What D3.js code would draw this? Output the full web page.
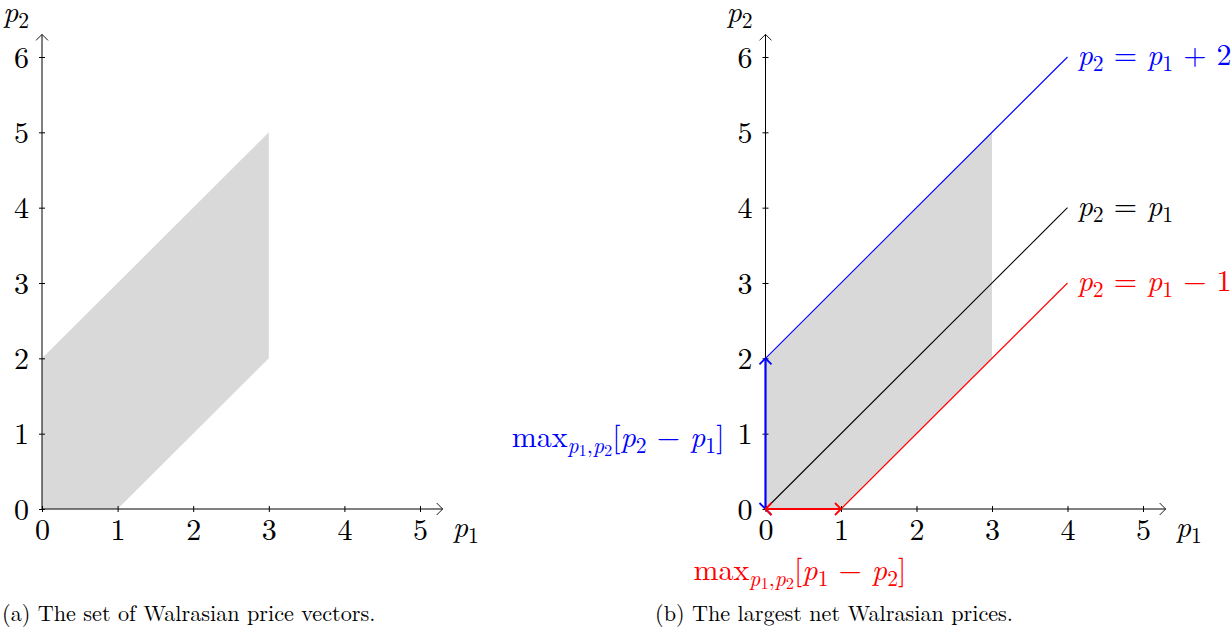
<!DOCTYPE html>
<html>
<head>
<meta charset="utf-8">
<script src="https://cdn.jsdelivr.net/npm/d3@7"></script>
<style>
  body { margin: 0; background: #fff; }
  text { font-family: "Latin Modern Roman", "CMU Serif", "Liberation Serif", serif; }
</style>
</head>
<body>
<svg width="1232" height="635"></svg>
<script>
const xTicks = [0, 1, 2, 3, 4, 5];
const yTicks = [0, 1, 2, 3, 4, 5, 6];
// shaded set of Walrasian price vectors (p1, p2)
const region = [[0, 0], [1, 0], [3, 2], [3, 5], [0, 2]];
// lines in panel (b): name, colour, endpoints
const lineNames = ["p2 = p1 + 2", "p2 = p1", "p2 = p1 - 1"];
const lineColors = ["#0000ff", "#000000", "#ff0000"];
const lineStarts = [[0, 2], [0, 0], [1, 0]];
const lineEnds = [[4, 6], [4, 4], [4, 3]];
const captions = ["(a) The set of Walrasian price vectors.", "(b) The largest net Walrasian prices."];

const svg = d3.select("svg");
const y = d3.scaleLinear().domain([0, 6]).range([509, 57]);
const xA = d3.scaleLinear().domain([0, 5]).range([42, 420]);
const xB = d3.scaleLinear().domain([0, 5]).range([765.5, 1143]);

const fs = 30;

function chevron(g, x, yy, dir, color, w) {
    // open arrow head with tip at (x, yy)
    const s = 6;
    let d;
    if (dir === "right") d = `M${x - s},${yy - s}L${x},${yy}L${x - s},${yy + s}`;
    if (dir === "left") d = `M${x + s},${yy - s}L${x},${yy}L${x + s},${yy + s}`;
    if (dir === "up") d = `M${x - s},${yy + s}L${x},${yy}L${x + s},${yy + s}`;
    if (dir === "down") d = `M${x - s},${yy - s}L${x},${yy}L${x + s},${yy + s}`;
    g.append("path").attr("d", d).attr("fill", "none")
        .attr("stroke", color).attr("stroke-width", w);
}

// math label helper: parts = [text, style] where style: r roman, i italic, s subscript italic, ss sub-sub
function mathText(g, x, yy, parts, size, color, anchor) {
    const t = g.append("text").attr("x", x).attr("y", yy)
        .attr("font-size", size).attr("fill", color)
        .attr("text-anchor", anchor || "start");
    let level = 0;
    parts.forEach(p => {
        const [str, st] = p;
        const target = st === "s" || st === "sr" ? 1 : st === "ss" ? 2 : 0;
        const sp = t.append("tspan").text(str);
        const shifts = [0, size * 0.2, size * 0.3];
        sp.attr("dy", shifts[target] - shifts[level]);
        level = target;
        sp.attr("font-size", target === 0 ? size : target === 1 ? size * 0.72 : size * 0.55);
        if (st !== "r" && st !== "ss" && st !== "sr") sp.attr("font-style", "italic");
    });
    return t;
}

function panel(x, withLines) {
    const g = svg.append("g");

    g.append("path")
        .datum(region)
        .attr("d", d3.line().x(d => x(d[0])).y(d => y(d[1])))
        .attr("fill", "#d9d9d9");

    // axes
    const xAxis = d3.axisBottom(x).tickValues(xTicks).tickSize(3).tickFormat(d3.format("d"));
    const gx = g.append("g").attr("transform", `translate(0,${y(0)})`).call(xAxis);
    gx.select(".domain").remove();
    gx.selectAll(".tick line").attr("y1", -3).attr("y2", 3).attr("stroke", "#000");
    gx.selectAll(".tick text").attr("y", 0).attr("dy", 31)
        .attr("font-size", fs).attr("font-family", null).attr("fill", "#000");

    const yAxis = d3.axisLeft(y).tickValues(yTicks).tickSize(3).tickFormat(d3.format("d"));
    const gy = g.append("g").attr("transform", `translate(${x(0)},0)`).call(yAxis);
    gy.select(".domain").remove();
    gy.selectAll(".tick line").attr("x1", -3).attr("x2", 3).attr("stroke", "#000");
    gy.selectAll(".tick text").attr("x", -13).attr("dy", 10)
        .attr("font-size", fs).attr("font-family", null).attr("fill", "#000");

    g.append("line").attr("x1", x(0)).attr("x2", x(5.3)).attr("y1", y(0)).attr("y2", y(0))
        .attr("stroke", "#000").attr("stroke-width", 1);
    chevron(g, x(5.3), y(0), "right", "#000", 0.9);
    g.append("line").attr("x1", x(0)).attr("x2", x(0)).attr("y1", y(0)).attr("y2", y(6.3))
        .attr("stroke", "#000").attr("stroke-width", 1);
    chevron(g, x(0), y(6.3), "up", "#000", 0.9);

    mathText(g, x(5.3) + 10, y(0) + 28, [["p", "i"], ["1", "sr"]], fs, "#000");
    mathText(g, x(0) - 39, y(6.3) - 12, [["p", "i"], ["2", "sr"]], fs, "#000");

    if (withLines) {
        const labelParts = [
            [["p", "i"], ["2", "sr"], [" = ", "r"], ["p", "i"], ["1", "sr"], [" + 2", "r"]],
            [["p", "i"], ["2", "sr"], [" = ", "r"], ["p", "i"], ["1", "sr"]],
            [["p", "i"], ["2", "sr"], [" = ", "r"], ["p", "i"], ["1", "sr"], [" \u2212 1", "r"]]
        ];
        lineNames.forEach((n, i) => {
            g.append("line")
                .attr("x1", x(lineStarts[i][0])).attr("y1", y(lineStarts[i][1]))
                .attr("x2", x(lineEnds[i][0])).attr("y2", y(lineEnds[i][1]))
                .attr("stroke", lineColors[i]).attr("stroke-width", 1.1);
            mathText(g, x(lineEnds[i][0]) + 10, y(lineEnds[i][1]) + 8, labelParts[i], fs, lineColors[i]);
        });

        // blue double arrow (0,0)-(0,2)
        g.append("line").attr("x1", x(0)).attr("x2", x(0)).attr("y1", y(0)).attr("y2", y(2))
            .attr("stroke", "#0000ff").attr("stroke-width", 2.2);
        chevron(g, x(0), y(0), "down", "#0000ff", 1.8);
        chevron(g, x(0), y(2), "up", "#0000ff", 1.8);
        // red double arrow (0,0)-(1,0)
        g.append("line").attr("x1", x(0)).attr("x2", x(1)).attr("y1", y(0)).attr("y2", y(0))
            .attr("stroke", "#ff0000").attr("stroke-width", 2.2);
        chevron(g, x(0), y(0), "left", "#ff0000", 1.8);
        chevron(g, x(1), y(0), "right", "#ff0000", 1.8);

        mathText(g, x(0) - 41, y(1) + 13,
            [["max", "r"], ["p", "s"], ["1", "ss"], [",", "sr"], ["p", "s"], ["2", "ss"], ["[", "r"], ["p", "i"], ["2", "sr"], [" \u2212 ", "r"], ["p", "i"], ["1", "sr"], ["]", "r"]],
            fs, "#0000ff", "end");
        mathText(g, x(0) - 72, y(0) + 71,
            [["max", "r"], ["p", "s"], ["1", "ss"], [",", "sr"], ["p", "s"], ["2", "ss"], ["[", "r"], ["p", "i"], ["1", "sr"], [" \u2212 ", "r"], ["p", "i"], ["2", "sr"], ["]", "r"]],
            fs, "#ff0000");
    }
}

panel(xA, false);
panel(xB, true);

svg.append("text").attr("x", 2).attr("y", 621).attr("font-size", 22.2).text(captions[0]);
svg.append("text").attr("x", 655).attr("y", 621).attr("font-size", 22.2).text(captions[1]);
</script>
</body>
</html>
